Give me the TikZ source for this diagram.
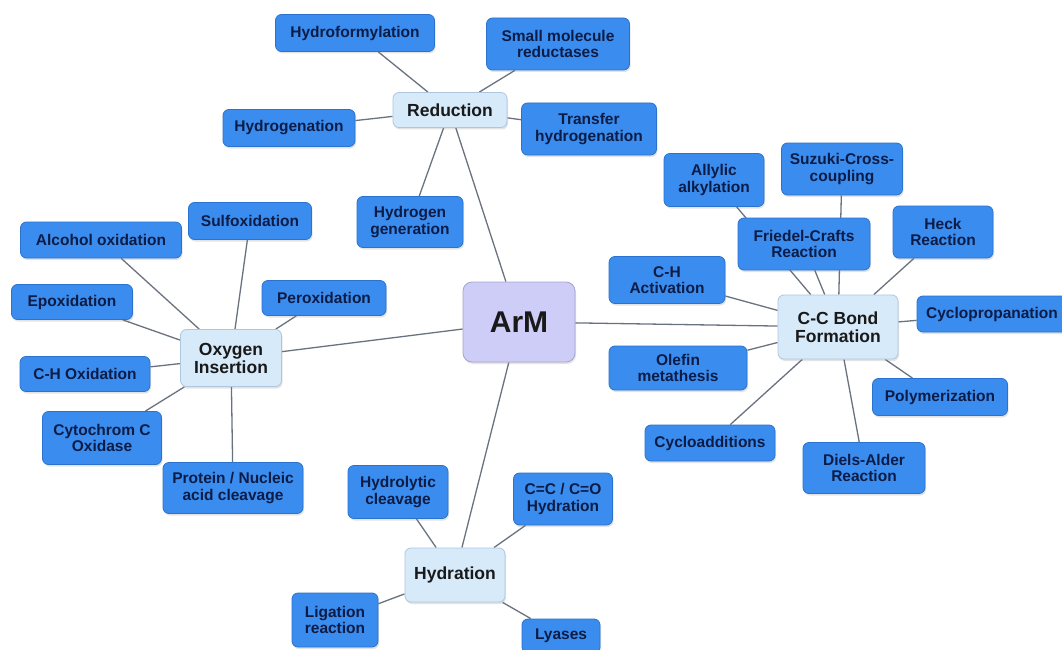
\documentclass[tikz,border=0pt]{standalone}
\usepackage{fontspec}
\setmainfont{Liberation Sans}
\usepackage{xcolor}
\usetikzlibrary{backgrounds}
\usetikzlibrary{shadows}

\definecolor{leafblue}{RGB}{58,141,238}
\definecolor{leafedge}{RGB}{42,114,206}
\definecolor{leaftext}{RGB}{12,28,70}
\definecolor{hubfill}{RGB}{214,234,250}
\definecolor{hubedge}{RGB}{175,198,222}
\definecolor{rootfill}{RGB}{205,205,248}
\definecolor{rootedge}{RGB}{165,165,205}
\definecolor{linkgray}{RGB}{105,115,128}

\tikzset{
  box/.style={rounded corners=6pt, align=center, inner sep=0pt,
    drop shadow={opacity=0.22, shadow xshift=1pt, shadow yshift=-2pt}},
  leaf/.style={box, fill=leafblue, draw=leafedge, line width=0.8pt, text=leaftext,
    font=\fontsize{15.5}{16.5}\selectfont\bfseries},
  hub/.style={box, fill=hubfill, draw=hubedge, line width=0.8pt, text=black!90,
    font=\fontsize{17.5}{18}\selectfont\bfseries},
  root/.style={box, rounded corners=9pt, fill=rootfill, draw=rootedge, line width=0.8pt,
    text=black!90, font=\fontsize{30}{32}\selectfont\bfseries},
  link/.style={draw=linkgray, line width=1.3pt}
}

\begin{document}
\begin{tikzpicture}[x=1pt,y=-1pt]
\useasboundingbox (0,0) rectangle (1062,650);

\node[root, minimum width=112pt, minimum height=80pt] (arm) at (519,322) {ArM};

\node[hub, minimum width=114pt, minimum height=35pt] (red) at (450,110) {Reduction};
\node[hub, minimum width=101pt, minimum height=57pt] (oxy) at (231,358) {Oxygen\\Insertion};
\node[hub, minimum width=100pt, minimum height=54pt] (hyd) at (455,575) {Hydration};
\node[hub, minimum width=120pt, minimum height=64pt] (ccb) at (838,327) {C-C Bond\\Formation};

\node[leaf, minimum width=159pt, minimum height=37pt] (hfo) at (355,33) {Hydroformylation};
\node[leaf, minimum width=143pt, minimum height=52pt] (smr) at (558,44) {Small molecule\\reductases};
\node[leaf, minimum width=135pt, minimum height=52pt] (trh) at (589,129) {Transfer\\hydrogenation};
\node[leaf, minimum width=132pt, minimum height=37pt] (hgn) at (289,128) {Hydrogenation};
\node[leaf, minimum width=106pt, minimum height=51pt] (hge) at (410,222) {Hydrogen\\generation};

\node[leaf, minimum width=161pt, minimum height=36pt] (alc) at (101,240) {Alcohol oxidation};
\node[leaf, minimum width=123pt, minimum height=37pt] (sulf) at (250,221) {Sulfoxidation};
\node[leaf, minimum width=121pt, minimum height=35pt] (epo) at (72,302) {Epoxidation};
\node[leaf, minimum width=124pt, minimum height=35pt] (per) at (324,298) {Peroxidation};
\node[leaf, minimum width=130pt, minimum height=35pt] (cho) at (85,374) {C-H Oxidation};
\node[leaf, minimum width=119pt, minimum height=53pt] (cyt) at (102,438) {Cytochrom C\\Oxidase};
\node[leaf, minimum width=140pt, minimum height=51pt] (prot) at (233,488) {Protein / Nucleic\\acid cleavage};

\node[leaf, minimum width=100pt, minimum height=53pt] (hyc) at (398,492) {Hydrolytic\\cleavage};
\node[leaf, minimum width=99pt, minimum height=52pt] (cco) at (563,499) {C=C / C=O\\Hydration};
\node[leaf, minimum width=86pt, minimum height=54pt] (lig) at (335,620) {Ligation\\reaction};
\node[leaf, minimum width=78pt, minimum height=34pt] (lya) at (561,636) {Lyases};

\node[leaf, minimum width=100pt, minimum height=53pt] (ally) at (714,180) {Allylic\\alkylation};
\node[leaf, minimum width=121pt, minimum height=52pt] (suz) at (842,169) {Suzuki-Cross-\\coupling};
\node[leaf, minimum width=132pt, minimum height=52pt] (fc) at (804,244) {Friedel-Crafts\\Reaction};
\node[leaf, minimum width=100pt, minimum height=52pt] (heck) at (943,232) {Heck\\Reaction};
\node[leaf, minimum width=116pt, minimum height=47pt] (cha) at (667,280) {C-H\\Activation};
\node[leaf, minimum width=150pt, minimum height=36pt] (cyc) at (992,314) {Cyclopropanation};
\node[leaf, minimum width=138pt, minimum height=44pt] (ole) at (678,368) {Olefin\\metathesis};
\node[leaf, minimum width=135pt, minimum height=37pt] (pol) at (940,397) {Polymerization};
\node[leaf, minimum width=130pt, minimum height=36pt] (cad) at (710,443) {Cycloadditions};
\node[leaf, minimum width=122pt, minimum height=51pt] (dia) at (864,468) {Diels-Alder\\Reaction};

\begin{scope}[on background layer]
\fill[white] (0,0) rectangle (1062,650);
\foreach \a in {red,oxy,hyd,ccb}
  \draw[link] (arm) -- (\a);
\foreach \a in {hfo,smr,trh,hgn,hge}
  \draw[link] (red) -- (\a);
\foreach \a in {alc,sulf,epo,per,cho,cyt,prot}
  \draw[link] (oxy) -- (\a);
\foreach \a in {hyc,cco,lig,lya}
  \draw[link] (hyd) -- (\a);
\foreach \a in {ally,suz,fc,heck,cha,cyc,ole,pol,cad,dia}
  \draw[link] (ccb) -- (\a);
\end{scope}
\end{tikzpicture}
\end{document}
